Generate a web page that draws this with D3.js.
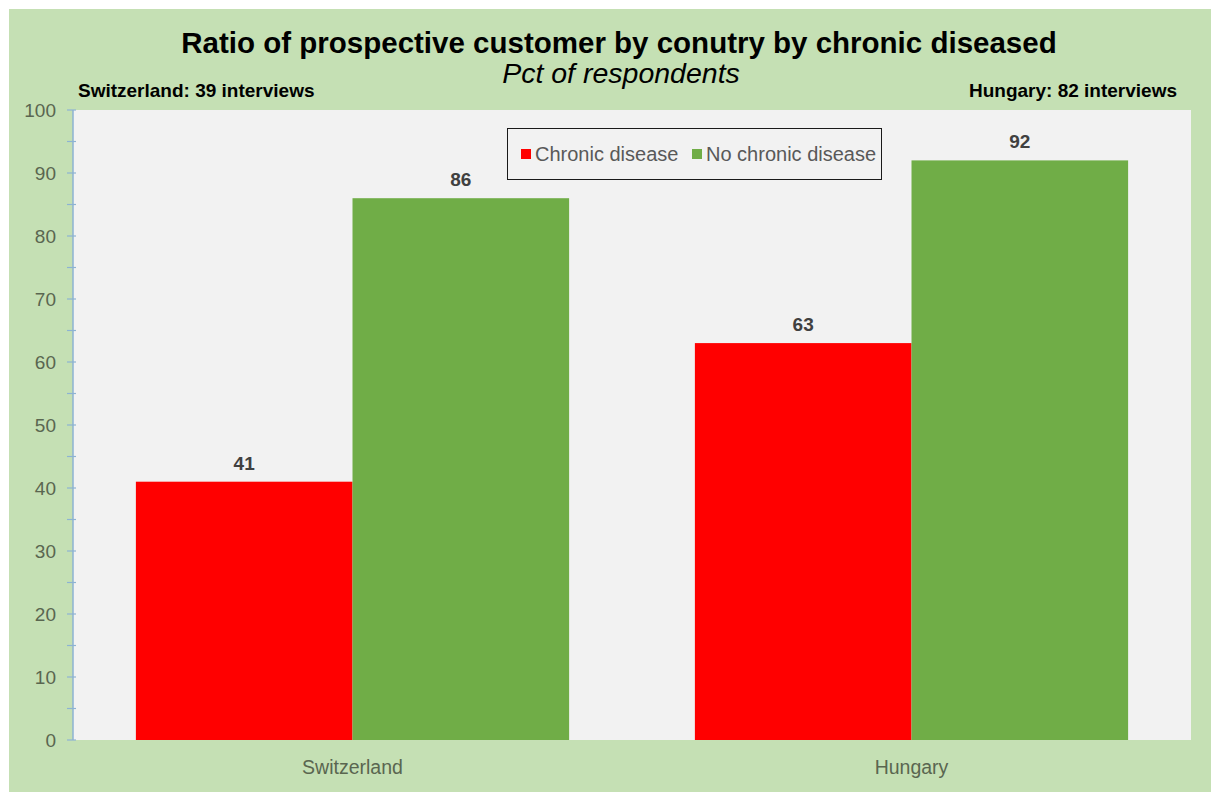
<!DOCTYPE html>
<html>
<head>
<meta charset="utf-8">
<script src="https://cdn.jsdelivr.net/npm/d3@7"></script>
<style>
  body { margin: 0; background: #fff; }
  svg { display: block; font-family: "Liberation Sans", Arial, sans-serif; }
</style>
</head>
<body>
<svg id="chart" width="1211" height="792"></svg>
<script>
// Data
const countries = ["Switzerland", "Hungary"];
const seriesNames = ["Chronic disease", "No chronic disease"];
const chronicValues = [41, 63];
const noChronicValues = [86, 92];
const interviews = [39, 82];
const yTicks = [0, 10, 20, 30, 40, 50, 60, 70, 80, 90, 100];

const colors = ["#ff0000", "#70ad47"];

const svg = d3.select("#chart");

//Outer green panel
svg.append("rect")
  .attr("x", 9).attr("y", 9)
  .attr("width", 1202).attr("height", 783)
  .attr("fill", "#c5e0b4");

//Plot area
const plot = { left: 73, right: 1191, top: 110, bottom: 740 };

svg.append("rect")
  .attr("x", plot.left).attr("y", plot.top)
  .attr("width", plot.right - plot.left).attr("height", plot.bottom - plot.top)
  .attr("fill", "#f2f2f2");

const x0 = d3.scaleBand()
  .domain(countries)
  .range([plot.left, plot.right])
  .paddingInner(0.225)
  .paddingOuter(0.1125);

const x1 = d3.scaleBand()
  .domain(seriesNames)
  .range([0, x0.bandwidth()]);

const y = d3.scaleLinear()
  .domain([0, 100])
  .range([plot.bottom, plot.top]);

//Table built from the arrays
const rows = countries.map((c, i) => ({
  country: c,
  values: [chronicValues[i], noChronicValues[i]]
}));

//Bars
const groups = svg.append("g")
  .selectAll("g")
  .data(rows)
  .join("g")
  .attr("transform", d => `translate(${x0(d.country)},0)`);

groups.selectAll("rect")
  .data(d => d.values.map((v, j) => ({ name: seriesNames[j], value: v, j })))
  .join("rect")
  .attr("x", d => x1(d.name))
  .attr("y", d => y(d.value))
  .attr("width", x1.bandwidth())
  .attr("height", d => y(0) - y(d.value))
  .attr("fill", d => colors[d.j]);

//Value labels
groups.selectAll("text")
  .data(d => d.values.map((v, j) => ({ name: seriesNames[j], value: v })))
  .join("text")
  .attr("x", d => x1(d.name) + x1.bandwidth() / 2)
  .attr("y", d => y(d.value) - 12)
  .attr("text-anchor", "middle")
  .attr("font-size", 19)
  .attr("font-weight", "bold")
  .attr("fill", "#404040")
  .text(d => d.value);

//Y axis (major + minor ticks)
const yAxis = svg.append("g")
  .attr("transform", `translate(${plot.left},0)`);

yAxis.append("line")
  .attr("x1", 0).attr("x2", 0)
  .attr("y1", plot.top).attr("y2", plot.bottom)
  .attr("stroke", "#8db3d3")
  .attr("stroke-width", 1.5);

const minorTicks = d3.range(5, 100, 10);
yAxis.selectAll("line.tick")
  .data(yTicks.concat(minorTicks))
  .join("line")
  .classed("tick", true)
  .attr("x1", -6).attr("x2", 3)
  .attr("y1", d => y(d)).attr("y2", d => y(d))
  .attr("stroke", "#8db3d3")
  .attr("stroke-width", 1.2);

yAxis.selectAll("text")
  .data(yTicks)
  .join("text")
  .attr("x", -17)
  .attr("y", d => y(d))
  .attr("dy", "0.35em")
  .attr("text-anchor", "end")
  .attr("font-size", 19)
  .attr("fill", "#5a6650")
  .text(d => d);

//X axis labels
svg.append("g")
  .selectAll("text")
  .data(countries)
  .join("text")
  .attr("x", d => x0(d) + x0.bandwidth() / 2)
  .attr("y", 767)
  .attr("dy", "0.35em")
  .attr("text-anchor", "middle")
  .attr("font-size", 19.5)
  .attr("fill", "#5a6650")
  .text(d => d);

//Titles
svg.append("text")
  .attr("x", 619).attr("y", 53)
  .attr("text-anchor", "middle")
  .attr("font-size", 29.5)
  .attr("font-weight", "bold")
  .attr("fill", "#000")
  .text("Ratio of prospective customer by conutry by chronic diseased");

svg.append("text")
  .attr("x", 621).attr("y", 83)
  .attr("text-anchor", "middle")
  .attr("font-size", 28.5)
  .attr("font-style", "italic")
  .attr("fill", "#000")
  .text("Pct of respondents");

svg.append("text")
  .attr("x", 78).attr("y", 97)
  .attr("font-size", 19)
  .attr("font-weight", "bold")
  .attr("fill", "#000")
  .text(`${countries[0]}: ${interviews[0]} interviews`);

svg.append("text")
  .attr("x", 1177).attr("y", 97)
  .attr("text-anchor", "end")
  .attr("font-size", 19)
  .attr("font-weight", "bold")
  .attr("fill", "#000")
  .text(`${countries[1]}: ${interviews[1]} interviews`);

//Legend
const legend = svg.append("g");
legend.append("rect")
  .attr("x", 507.5).attr("y", 128.5)
  .attr("width", 374).attr("height", 51)
  .attr("fill", "#f2f2f2")
  .attr("stroke", "#1a1a1a")
  .attr("stroke-width", 1);

const legendX = [521, 692];
const legendItems = legend.selectAll("g")
  .data(seriesNames)
  .join("g")
  .attr("transform", (d, i) => `translate(${legendX[i]},154)`);

legendItems.append("rect")
  .attr("x", 0).attr("y", -5)
  .attr("width", 10).attr("height", 10)
  .attr("fill", (d, i) => colors[i]);

legendItems.append("text")
  .attr("x", 14)
  .attr("dy", "0.35em")
  .attr("font-size", 20)
  .attr("fill", "#595959")
  .text(d => d);
</script>
</body>
</html>
